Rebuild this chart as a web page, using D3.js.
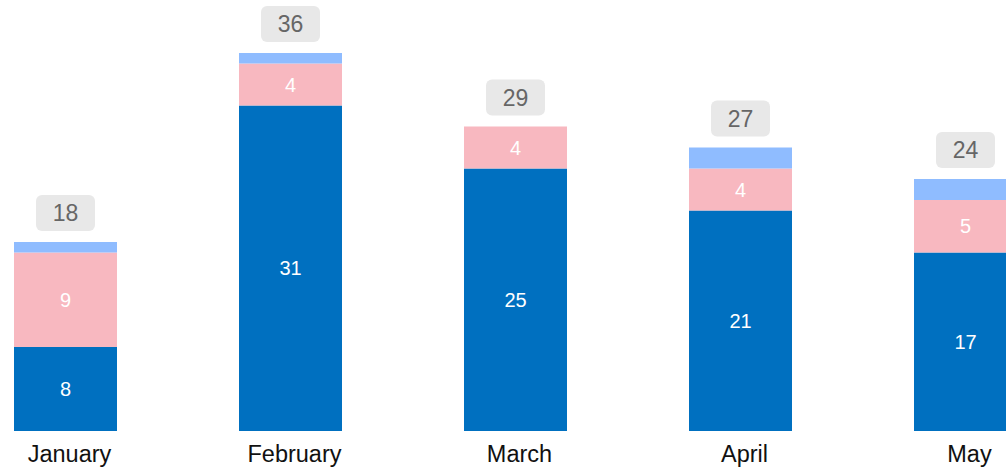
<!DOCTYPE html>
<html>
<head>
<meta charset="utf-8">
<script src="https://cdn.jsdelivr.net/npm/d3@7"></script>
<style>
  html, body { margin: 0; padding: 0; background: #fff; }
  svg { display: block; font-family: Arial, "Liberation Sans", sans-serif; }
</style>
</head>
<body>
<svg id="chart"></svg>
<script>
const months = ["January", "February", "March", "April", "May"];
const darkBlue = [8, 31, 25, 21, 17];
const pink = [9, 4, 4, 4, 5];
const lightBlue = [1, 1, 0, 2, 2];
const totals = [18, 36, 29, 27, 24];

const seriesKeys = ["darkBlue", "pink", "lightBlue"];
const colors = { darkBlue: "#0070C0", pink: "#F8B8C0", lightBlue: "#8FBCFF" };

const data = months.map((m, i) => ({
    month: m, darkBlue: darkBlue[i], pink: pink[i], lightBlue: lightBlue[i], total: totals[i]
}));

const width = 1006, height = 471;
const svg = d3.select("#chart").attr("width", width).attr("height", height);

const x = d3.scaleBand()
    .domain(months)
    .range([14, 1017])
    .paddingInner(122 / 225)
    .paddingOuter(0);

const y = d3.scaleLinear().domain([0, 36]).range([431, 53]);

const stacked = d3.stack().keys(seriesKeys)(data);

const layers = svg.selectAll(".layer")
    .data(stacked)
    .enter().append("g")
    .attr("class", "layer")
    .attr("fill", s => colors[s.key]);

layers.selectAll("rect")
    .data(s => s)
    .enter().append("rect")
    .attr("x", d => x(d.data.month))
    .attr("width", x.bandwidth())
    .attr("y", d => y(d[1]))
    .attr("height", d => y(d[0]) - y(d[1]));

// segment labels (dark blue and pink only)
stacked.filter(s => s.key !== "lightBlue").forEach(s => {
    svg.append("g").selectAll("text")
        .data(s.filter(d => d[1] - d[0] > 0))
        .enter().append("text")
        .attr("x", d => x(d.data.month) + x.bandwidth() / 2)
        .attr("y", d => (y(d[0]) + y(d[1])) / 2)
        .attr("dy", "0.36em")
        .attr("text-anchor", "middle")
        .attr("fill", "#fff")
        .style("font-size", "20px")
        .text(d => d[1] - d[0]);
});

// total badges
const badges = svg.selectAll(".badge")
    .data(data)
    .enter().append("g")
    .attr("class", "badge")
    .attr("transform", d => `translate(${x(d.month) + x.bandwidth() / 2},${y(d.total) - 29})`);

badges.append("rect")
    .attr("x", -29.5)
    .attr("y", -18)
    .attr("width", 59)
    .attr("height", 36)
    .attr("rx", 6)
    .attr("fill", "#E8E8E8");

badges.append("text")
    .attr("text-anchor", "middle")
    .attr("dy", "0.36em")
    .attr("fill", "#666")
    .style("font-size", "23px")
    .text(d => d.total);

// category labels
svg.append("g").selectAll("text")
    .data(months)
    .enter().append("text")
    .attr("x", d => x(d) + x.bandwidth() / 2 + 4)
    .attr("y", 462)
    .attr("text-anchor", "middle")
    .attr("fill", "#111")
    .style("font-size", "23.5px")
    .text(d => d);
</script>
</body>
</html>
